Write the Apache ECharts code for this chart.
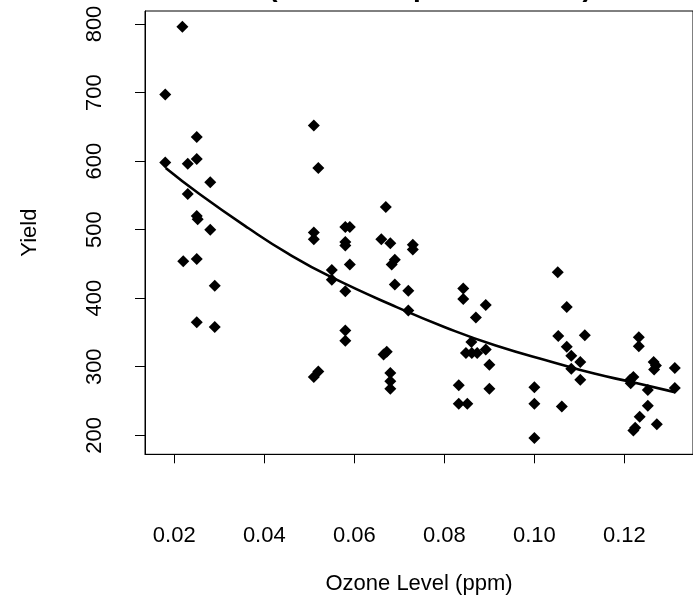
<!DOCTYPE html>
<html>
<head>
<meta charset="utf-8">
<script src="https://cdn.jsdelivr.net/npm/echarts@6/dist/echarts.min.js"></script>
<style>
html,body{margin:0;padding:0;background:#fff;}
#chart{width:693px;height:605px;}
</style>
</head>
<body>
<div id="chart"></div>
<script>
const ozone = [
  0.0180,0.0218,0.0180,0.0230,0.0250,0.0250,0.0280,0.0230,0.0250,0.0252,0.0280,0.0220,0.0250,0.0290,0.0250,0.0290,
  0.0510,0.0520,0.0510,0.0510,0.0510,0.0520,
  0.0550,0.0550,
  0.0580,0.0590,0.0580,0.0580,0.0590,0.0580,0.0580,0.0580,
  0.0670,0.0660,0.0680,0.0690,0.0683,0.0690,0.0665,0.0672,0.0680,0.0680,0.0680,
  0.0730,0.0730,0.0720,0.0720,
  0.0842,0.0842,0.0892,0.0870,0.0860,0.0848,0.0861,0.0873,0.0892,0.0900,0.0832,0.0900,0.0832,0.0851,
  0.1000,0.1000,0.1000,
  0.1052,0.1072,0.1053,0.1112,0.1072,0.1082,0.1102,0.1082,0.1102,0.1061,
  0.1232,0.1232,0.1265,0.1270,0.1266,0.1213,0.1220,0.1214,0.1252,0.1252,0.1234,0.1224,0.1220,0.1272,
  0.1312,0.1312
];
const yieldVals = [
  697,796,598,596,635,603,569,552,520,515,500,454,457,418,365,358,
  652,590,496,486,285,293,
  441,427,
  504,504,482,477,449,410,353,338,
  533,486,480,456,449,420,318,322,291,279,268,
  478,471,411,382,
  414,399,390,372,336,320,320,320,325,303,273,268,246,246,
  270,246,196,
  438,387,345,346,329,316,307,297,281,242,
  343,330,307,302,296,281,285,276,266,243,227,211,207,216,
  298,269
];
// Fitted curve
const fitOzone = [0.0181,0.0256,0.0365,0.0453,0.0548,0.0694,0.0804,0.0914,0.1045,0.1133,0.1214,0.1312];
const fitYield = [590,552,502,465,431,387,357,331,306,290,278,263];
// Tick labels
const xTicks = [0.02,0.04,0.06,0.08,0.10,0.12];
const yTicks = [200,300,400,500,600,700,800];

const FONT = 'Liberation Sans';
const chart = echarts.init(document.getElementById('chart'), null, {renderer:'canvas'});
chart.setOption({
  animation:false,
  backgroundColor:'#fff',
  grid:{left:145,top:11,width:555,height:443.3,show:true,borderColor:'#000',borderWidth:1,backgroundColor:'transparent'},
  xAxis:{
    type:'value',min:0.0135,max:0.13524,
    name:'Ozone Level (ppm)',nameLocation:'middle',nameGap:119,
    nameTextStyle:{fontFamily:FONT,fontSize:22,color:'#000'},
    axisLine:{show:true,lineStyle:{color:'#000',width:1}},
    axisTick:{show:true,length:9,customValues:xTicks,lineStyle:{color:'#000',width:1}},
    axisLabel:{customValues:xTicks,margin:71,fontFamily:FONT,fontSize:22,color:'#000',
      formatter:v=>Number(v).toFixed(2)},
    splitLine:{show:false}
  },
  yAxis:{
    type:'value',min:172.28,max:818.96,
    name:'Yield',nameLocation:'middle',nameGap:104,nameRotate:90,
    nameTextStyle:{fontFamily:FONT,fontSize:22,color:'#000'},
    axisLine:{show:true,lineStyle:{color:'#000',width:1}},
    axisTick:{show:true,length:10,customValues:yTicks,lineStyle:{color:'#000',width:1}},
    axisLabel:{customValues:yTicks,rotate:90,margin:39,fontFamily:FONT,fontSize:22,color:'#000'},
    splitLine:{show:false}
  },
  graphic:[{
    type:'text',left:null,x:430,y:-12,silent:true,
    style:{text:'(Fitted Response Curve)',x:0,y:0,align:'center',verticalAlign:'middle',
      font:'bold 28px "Liberation Sans"',fill:'#000'}
  }],
  series:[
    {type:'scatter',symbol:'diamond',symbolSize:12,
     itemStyle:{color:'#000',opacity:1},
     data:ozone.map((x,i)=>[x,yieldVals[i]]),z:2},
    {type:'line',smooth:true,showSymbol:false,
     lineStyle:{color:'#000',width:2.6},
     data:fitOzone.map((x,i)=>[x,fitYield[i]]),z:3}
  ]
});
</script>
</body>
</html>
